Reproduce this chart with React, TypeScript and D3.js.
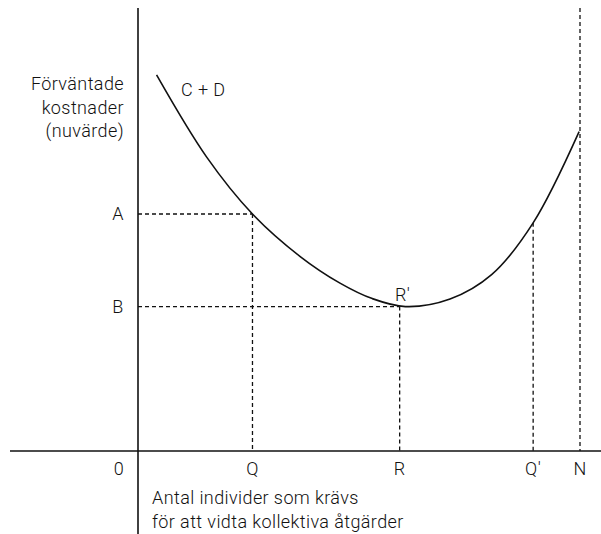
import React from 'react';
import * as d3 from 'd3';

// curve C + D (x: individuals, y: cost)
const curveX = [4.2, 15.5, 25.9, 36.7, 45.7, 53.0, 60.5, 70.6, 80.0, 89.4, 99.8];
const curveY = [84.9, 66.4, 53.5, 43.9, 37.9, 34.4, 32.6, 34.3, 39.8, 51.5, 72.1];

const xTickLabels = ['0', 'Q', 'R', 'Q\u2032', 'N'];
const xTickValues = [0, 25.9, 59.2, 89.4, 100];
const yTickLabels = ['A', 'B'];
const yTickValues = [53.5, 32.6];

const width = 601;
const height = 534;
const font = 'Roboto, sans-serif';

export default function App() {
  const x = d3.scaleLinear().domain([0, 100]).range([138, 580]);
  const y = d3.scaleLinear().domain([0, 100]).range([451, 8]);

  const pts = curveX.map((v, i) => [v, curveY[i]] as [number, number]);
  const line = d3.line<[number, number]>()
    .x(d => x(d[0]))
    .y(d => y(d[1]))
    .curve(d3.curveCatmullRom.alpha(0.5));

  const [qx, rx, q2x, nx] = xTickValues.slice(1);
  const [ay, by] = yTickValues;

  const dash = { stroke: '#111', strokeWidth: 1.3, strokeDasharray: '4,3', fill: 'none' };

  return (
    <svg width={width} height={height} style={{ position: 'absolute', left: 0, top: 0, background: '#fff' }}
      fontFamily={font} fontWeight={300} fontSize={18} letterSpacing={0.4} fill="#111">
      {/* dashed guides */}
      <line x1={x(0)} x2={x(qx)} y1={y(ay)} y2={y(ay)} {...dash} />
      <line x1={x(qx)} x2={x(qx)} y1={y(ay)} y2={y(0)} {...dash} />
      <line x1={x(0)} x2={x(rx)} y1={y(by)} y2={y(by)} {...dash} />
      <line x1={x(rx)} x2={x(rx)} y1={y(by)} y2={y(0)} {...dash} />
      <line x1={x(q2x)} x2={x(q2x)} y1={y(51.5)} y2={y(0)} {...dash} />
      <line x1={x(nx)} x2={x(nx)} y1={y(100)} y2={y(0)} {...dash} />

      {/* axes */}
      <line x1={x(0)} x2={x(0)} y1={y(100)} y2={height} stroke="#111" strokeWidth={1.6} />
      <line x1={10} x2={width} y1={y(0)} y2={y(0)} stroke="#111" strokeWidth={1.6} />

      {/* curve */}
      <path d={line(pts) || ''} fill="none" stroke="#111" strokeWidth={1.6} />

      {/* labels */}
      <text x={124} textAnchor="end">
        <tspan x={124} y={90}>Förväntade</tspan>
        <tspan x={124} y={114}>kostnader</tspan>
        <tspan x={124} y={137}>(nuvärde)</tspan>
      </text>
      <text x={181} y={96}>C + D</text>
      {yTickLabels.map((t, i) => (
        <text key={t} x={118} y={y(yTickValues[i]) + 6} textAnchor="middle">{t}</text>
      ))}
      <text x={x(rx) + 3} y={301} textAnchor="middle">R′</text>
      {xTickLabels.map((t, i) => (
        <text key={t} x={i === 0 ? 119 : x(xTickValues[i])} y={475} textAnchor="middle">{t}</text>
      ))}
      <text x={152} y={504}>Antal individer som krävs</text>
      <text x={152} y={528}>för att vidta kollektiva åtgärder</text>
    </svg>
  );
}
